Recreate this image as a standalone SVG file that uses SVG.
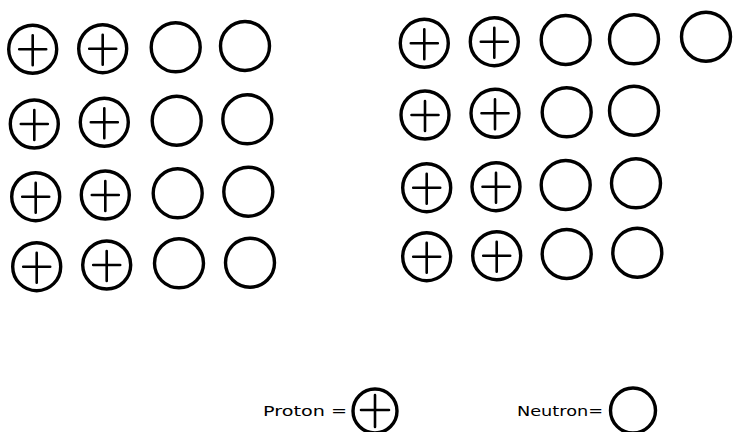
<svg xmlns="http://www.w3.org/2000/svg" xmlns:xlink="http://www.w3.org/1999/xlink" width="733" height="432" viewBox="0 0 733 432">
<style>
.c{fill:none;stroke:#000;stroke-width:3.4}
.x{fill:none;stroke:#000;stroke-width:2.6;stroke-linecap:round}
.t{font-family:"DejaVu Sans","Liberation Sans",sans-serif;font-size:14px;fill:#000}
</style>
<defs>
<g id="p"><circle class="c" r="24"/><path class="x" d="M-13.5,0H13.5M0,-14V16"/></g>
<g id="n"><circle class="c" r="24.5"/></g>
</defs>
<rect width="733" height="432" fill="#fff"/>
<g id="left-nucleus">
<use id="L11" xlink:href="#p" x="32.7" y="49.3"/>
<use id="L12" xlink:href="#p" x="102.7" y="48.7"/>
<use id="L13" xlink:href="#n" x="175.7" y="47.3"/>
<use id="L14" xlink:href="#n" x="245" y="46"/>
<use id="L21" xlink:href="#p" x="34.3" y="124"/>
<use id="L22" xlink:href="#p" x="104.3" y="122.3"/>
<use id="L23" xlink:href="#n" x="176.7" y="120.7"/>
<use id="L24" xlink:href="#n" x="247.3" y="119.3"/>
<use id="L31" xlink:href="#p" x="35.7" y="196.7"/>
<use id="L32" xlink:href="#p" x="105.3" y="195"/>
<use id="L33" xlink:href="#n" x="177.7" y="193.3"/>
<use id="L34" xlink:href="#n" x="248.3" y="191.7"/>
<use id="L41" xlink:href="#p" x="36.7" y="266.7"/>
<use id="L42" xlink:href="#p" x="106.7" y="265"/>
<use id="L43" xlink:href="#n" x="179" y="263.3"/>
<use id="L44" xlink:href="#n" x="250" y="262.7"/>
</g>
<g id="right-nucleus">
<use id="R11" xlink:href="#p" x="424.3" y="43.3"/>
<use id="R12" xlink:href="#p" x="494.3" y="41.7"/>
<use id="R13" xlink:href="#n" x="565.7" y="40"/>
<use id="R14" xlink:href="#n" x="634" y="39.3"/>
<use id="R15" xlink:href="#n" x="706" y="36.7"/>
<use id="R21" xlink:href="#p" x="425" y="115"/>
<use id="R22" xlink:href="#p" x="495" y="113.3"/>
<use id="R23" xlink:href="#n" x="566.7" y="112.3"/>
<use id="R24" xlink:href="#n" x="634" y="110.7"/>
<use id="R31" xlink:href="#p" x="426.7" y="187.7"/>
<use id="R32" xlink:href="#p" x="496" y="186.7"/>
<use id="R33" xlink:href="#n" x="565.7" y="185"/>
<use id="R34" xlink:href="#n" x="636" y="183.3"/>
<use id="R41" xlink:href="#p" x="426.7" y="256.7"/>
<use id="R42" xlink:href="#p" x="496.7" y="255.7"/>
<use id="R43" xlink:href="#n" x="566.7" y="254"/>
<use id="R44" xlink:href="#n" x="637.3" y="252.7"/>
</g>
<g id="legend-proton">
<text class="t" x="263" y="416" textLength="84" lengthAdjust="spacingAndGlyphs">Proton =</text>
<circle class="c" cx="375" cy="411" r="22"/>
<path class="x" d="M361,410H389M375,395V427"/>
</g>
<g id="legend-neutron">
<text class="t" x="517" y="416" textLength="86" lengthAdjust="spacingAndGlyphs">Neutron=</text>
<circle class="c" cx="633" cy="410.5" r="22.5"/>
</g>
<g id="connectors"/>
</svg>
